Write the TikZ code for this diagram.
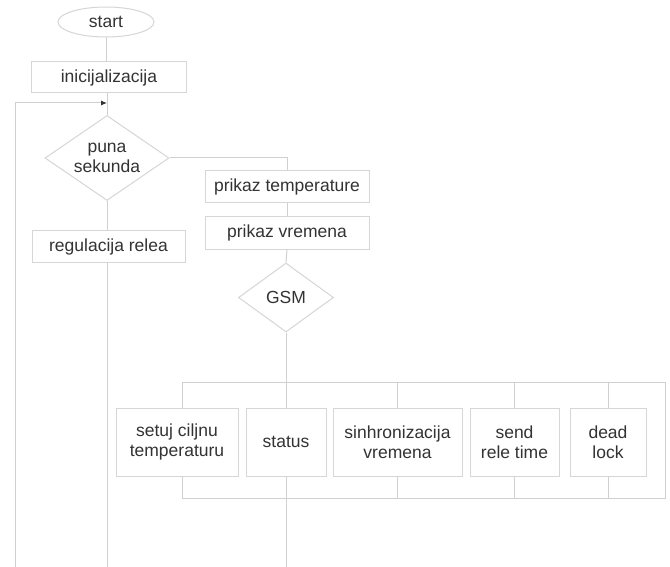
\documentclass[tikz,border=0pt]{standalone}
\usepackage{fontspec}
\setmainfont{Liberation Sans}
\usetikzlibrary{shapes.geometric,arrows.meta}
\definecolor{ln}{HTML}{D0D0D0}
\definecolor{bx}{HTML}{D6D6D6}
\definecolor{tx}{HTML}{333333}
\begin{document}
\begin{tikzpicture}[x=1pt,y=-1pt,
  every node/.style={font=\fontsize{17.5}{20}\selectfont, text=tx, align=center, inner sep=0pt},
  boxst/.style={draw=bx, line width=1pt, rectangle, fill=white},
  decst/.style={draw=bx, line width=1pt, diamond, fill=white},
  ln/.style={draw=ln, line width=1pt}]
\useasboundingbox (0,0) rectangle (670,567);
\fill[white] (0,0) rectangle (670,567);
% main column
\node[ellipse, draw=bx, line width=1pt, fill=white, minimum width=96pt, minimum height=30pt] (start) at (106,22) {start};
\node[boxst, minimum width=155pt, minimum height=31pt] (init) at (109,77.5) {inicijalizacija};
\node[decst, minimum width=124pt, minimum height=85pt, shape aspect=1.46] (puna) at (107,158) {puna\\sekunda};
\node[boxst, minimum width=153pt, minimum height=31pt] (reg) at (108.5,246.5) {regulacija relea};
% right branch
\node[boxst, minimum width=164pt, minimum height=32pt] (ptemp) at (287,187) {prikaz temperature};
\node[boxst, minimum width=164pt, minimum height=32pt] (pvrem) at (287,233) {prikaz vremena};
\node[decst, minimum width=95pt, minimum height=69pt, shape aspect=1.38] (gsm) at (286,297.5) {GSM};
% switch boxes
\node[boxst, minimum width=122pt, minimum height=68pt] (s1) at (177,442) {setuj ciljnu\\temperaturu};
\node[boxst, minimum width=80pt, minimum height=68pt] (s2) at (286,442) {status};
\node[boxst, minimum width=129pt, minimum height=68pt] (s3) at (397.5,442) {sinhronizacija\\vremena};
\node[boxst, minimum width=89pt, minimum height=68pt] (s4) at (514.5,442) {send\\rele time};
\node[boxst, minimum width=76pt, minimum height=68pt] (s5) at (608,442) {dead\\lock};
% coordinates
\coordinate (tl) at (182,382);
\coordinate (tr) at (665,382);
\coordinate (bl) at (182,498);
\coordinate (br) at (665,498);
\coordinate (lb) at (15,567);
\coordinate (lt) at (107,103);
\coordinate (regbot) at (107,567);
\coordinate (stbot) at (286,567);
% connectors
\draw[ln] (start.south) -- (start.south |- init.north);
\draw[ln] (init.south -| puna.north) -- (puna.north);
\draw[ln, -{Latex[length=6pt,width=5pt,color=black!80]}] (lb) |- (lt);
\draw[ln] (puna.south) -- (puna.south |- reg.north);
\draw[ln] (reg.south -| regbot) -- (regbot);
\draw[ln] (puna.east) -| (ptemp.north);
\draw[ln] (ptemp.south) -- (pvrem.north);
\draw[ln] (pvrem.south) -- (gsm.north);
\draw[ln] (gsm.south) -- (s2.north);
\draw[ln] (s2.south) -- (stbot);
\draw[ln] (tl) -- (tr) -- (br) -- (bl);
\draw[ln] (tl) -- (tl |- s1.north);
\draw[ln] (tl |- s1.south) -- (bl);
\draw[ln] (s3.north |- tl) -- (s3.north);
\draw[ln] (s3.south) -- (s3.south |- bl);
\draw[ln] (s4.north |- tl) -- (s4.north);
\draw[ln] (s4.south) -- (s4.south |- bl);
\draw[ln] (s5.north |- tl) -- (s5.north);
\draw[ln] (s5.south) -- (s5.south |- bl);
\end{tikzpicture}
\end{document}
